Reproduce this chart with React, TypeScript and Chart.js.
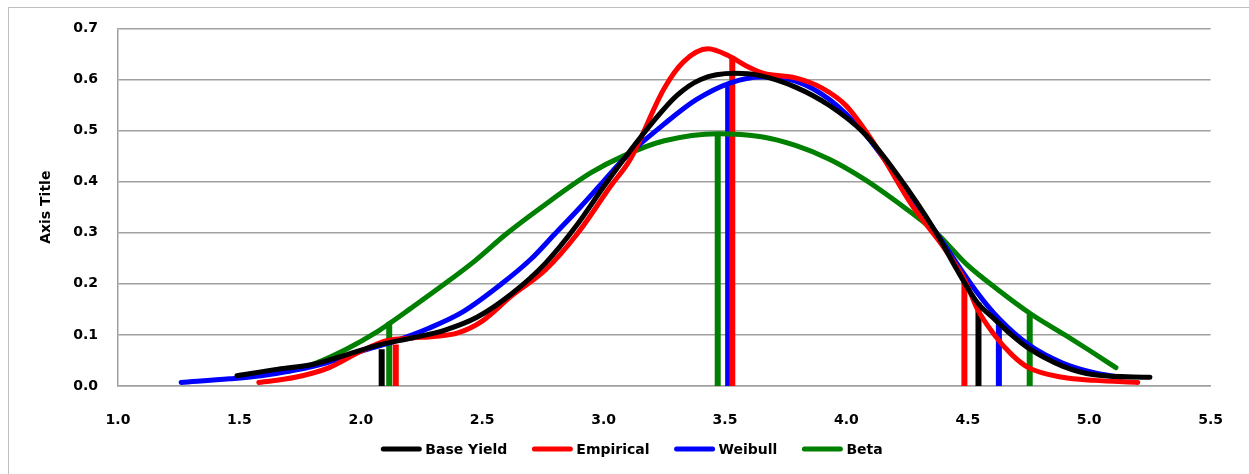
import React, { useEffect, useRef } from "react";
import { Chart, registerables } from "chart.js";

Chart.register(...registerables);

// ---- data ----
const seriesNames = ["Base Yield", "Empirical", "Weibull", "Beta"];
const seriesColors = ["#000000", "#FF0000", "#0000FF", "#008000"];

const baseX = [1.49, 1.66, 1.80, 1.94, 2.07, 2.21, 2.35, 2.48, 2.62, 2.76, 2.89, 3.00, 3.08, 3.20, 3.30, 3.40, 3.54, 3.64, 3.79, 3.93, 4.07, 4.20, 4.37, 4.45, 4.54, 4.61, 4.68, 4.75, 4.89, 5.02, 5.25];
const baseY = [0.020, 0.033, 0.042, 0.061, 0.080, 0.094, 0.110, 0.135, 0.180, 0.240, 0.315, 0.390, 0.442, 0.515, 0.568, 0.600, 0.612, 0.608, 0.585, 0.549, 0.496, 0.420, 0.300, 0.232, 0.163, 0.131, 0.100, 0.074, 0.039, 0.022, 0.017];

const empX = [1.58, 1.73, 1.87, 2.00, 2.11, 2.21, 2.30, 2.40, 2.50, 2.62, 2.76, 2.89, 3.03, 3.11, 3.25, 3.33, 3.43, 3.52, 3.59, 3.66, 3.79, 3.90, 4.00, 4.13, 4.27, 4.41, 4.49, 4.54, 4.61, 4.68, 4.75, 4.89, 5.02, 5.20];
const empY = [0.007, 0.017, 0.036, 0.068, 0.089, 0.094, 0.097, 0.104, 0.127, 0.176, 0.227, 0.297, 0.392, 0.444, 0.583, 0.635, 0.660, 0.645, 0.626, 0.612, 0.603, 0.583, 0.548, 0.463, 0.354, 0.265, 0.205, 0.150, 0.100, 0.062, 0.036, 0.017, 0.011, 0.007];

const weiX = [1.26, 1.46, 1.59, 1.73, 1.87, 2.00, 2.14, 2.28, 2.42, 2.58, 2.70, 2.80, 2.90, 2.98, 3.08, 3.25, 3.38, 3.52, 3.65, 3.79, 3.93, 4.07, 4.20, 4.37, 4.54, 4.63, 4.75, 4.89, 5.02, 5.13];
const weiY = [0.007, 0.014, 0.020, 0.031, 0.047, 0.068, 0.088, 0.113, 0.145, 0.200, 0.248, 0.298, 0.348, 0.390, 0.443, 0.513, 0.560, 0.593, 0.605, 0.597, 0.561, 0.497, 0.415, 0.300, 0.182, 0.131, 0.081, 0.045, 0.026, 0.017];

const betaX = [1.70, 1.80, 1.94, 2.07, 2.12, 2.20, 2.34, 2.47, 2.60, 2.75, 2.95, 3.08, 3.25, 3.47, 3.65, 3.79, 3.93, 4.07, 4.20, 4.37, 4.50, 4.62, 4.76, 4.90, 5.00, 5.11];
const betaY = [0.028, 0.042, 0.072, 0.107, 0.123, 0.150, 0.198, 0.245, 0.298, 0.352, 0.418, 0.450, 0.480, 0.494, 0.488, 0.471, 0.444, 0.406, 0.363, 0.300, 0.236, 0.190, 0.141, 0.100, 0.070, 0.036];

// vertical marker lines (x position, height)
const vBaseX = [2.086, 4.544];
const vBaseTop = [0.072, 0.163];
const vEmpX = [2.144, 3.530, 4.486];
const vEmpTop = [0.081, 0.645, 0.205];
const vWeiX = [3.513, 4.628];
const vWeiTop = [0.593, 0.131];
const vBetaX = [2.117, 3.470, 4.755];
const vBetaTop = [0.125, 0.494, 0.141];

const xMin = 1.0;
const xMax = 5.5;
const xStep = 0.5;
const yMin = 0;
const yMax = 0.7;
const yStep = 0.1;
const yTitle = "Axis Title";

const FONT = "'DejaVu Sans', sans-serif";
const GRID = "#a0a0a0";

const curveXs = [baseX, empX, weiX, betaX];
const curveYs = [baseY, empY, weiY, betaY];
const vXs = [vBaseX, vEmpX, vWeiX, vBetaX];
const vTops = [vBaseTop, vEmpTop, vWeiTop, vBetaTop];

const legendPlugin = {
  id: "customLegend",
  afterDraw(chart: any) {
    const ctx = chart.ctx;
    ctx.save();
    ctx.font = `bold 14px ${FONT}`;
    const lineLen = 40;
    const gapText = 4;
    const gapItem = 25;
    const widths = seriesNames.map((n) => ctx.measureText(n).width);
    let total = 0;
    widths.forEach((w, i) => {
      total += lineLen + gapText + w + (i < widths.length - 1 ? gapItem : 0);
    });
    let x = 632 - total / 2;
    const y = 450;
    seriesNames.forEach((n, i) => {
      ctx.strokeStyle = seriesColors[i];
      ctx.lineWidth = 5;
      ctx.lineCap = "round";
      ctx.beginPath();
      ctx.moveTo(x + 2, y - 1);
      ctx.lineTo(x + lineLen - 2, y - 1);
      ctx.stroke();
      ctx.fillStyle = "#000";
      ctx.textBaseline = "middle";
      ctx.textAlign = "left";
      ctx.fillText(n, x + lineLen + gapText, y);
      x += lineLen + gapText + widths[i] + gapItem;
    });
    ctx.restore();
  },
};

export default function App() {
  const ref = useRef<HTMLCanvasElement | null>(null);

  useEffect(() => {
    if (!ref.current) return;
    const datasets: any[] = [];
    [0, 1, 2, 3].forEach((i) => {
      datasets.push({
        label: seriesNames[i],
        data: curveXs[i].map((x, k) => ({ x, y: curveYs[i][k] })),
        borderColor: seriesColors[i],
        backgroundColor: seriesColors[i],
        borderWidth: 5,
        showLine: true,
        pointRadius: 0,
        cubicInterpolationMode: "monotone",
        borderCapStyle: "round",
        borderJoinStyle: "round",
        fill: false,
      });
    });
    [0, 1, 2, 3].forEach((i) => {
      vXs[i].forEach((vx, k) => {
        datasets.push({
          label: seriesNames[i] + " marker",
          data: [
            { x: vx, y: 0 },
            { x: vx, y: vTops[i][k] },
          ],
          borderColor: seriesColors[i],
          backgroundColor: seriesColors[i],
          borderWidth: 6,
          showLine: true,
          pointRadius: 0,
          tension: 0,
          fill: false,
        });
      });
    });

    const chart = new Chart(ref.current, {
      type: "scatter",
      data: { datasets },
      options: {
        animation: false,
        responsive: false,
        devicePixelRatio: 1,
        layout: { padding: { left: 0, top: 19, right: 32, bottom: 0 } },
        plugins: { legend: { display: false }, tooltip: { enabled: false } },
        scales: {
          x: {
            type: "linear",
            min: xMin,
            max: xMax,
            ticks: {
              stepSize: xStep,
              padding: 26,
              color: "#000",
              font: { family: FONT, size: 14, weight: "bold" },
              callback: (v: any) => Number(v).toFixed(1),
            },
            grid: { display: false, drawTicks: false },
            border: { display: true, color: GRID, width: 1.5 },
            afterFit: (s: any) => {
              s.height = 88;
            },
          },
          y: {
            type: "linear",
            min: yMin,
            max: yMax,
            ticks: {
              stepSize: yStep,
              padding: 20,
              color: "#000",
              font: { family: FONT, size: 14, weight: "bold" },
              callback: (v: any) => Number(v).toFixed(1),
            },
            grid: { color: GRID, lineWidth: 1.5, drawTicks: false },
            border: { display: true, color: GRID, width: 1.5 },
            title: {
              display: true,
              text: yTitle,
              color: "#000",
              font: { family: FONT, size: 14, weight: "bold" },
              padding: { top: 38, bottom: 0 },
            },
            afterFit: (s: any) => {
              s.width = 118;
            },
          },
        },
      },
      plugins: [legendPlugin],
    });
    return () => chart.destroy();
  }, []);

  return (
    <div style={{ position: "absolute", left: 0, top: 0, width: 1249, height: 474, overflow: "hidden", background: "#fff" }}>
      <div
        style={{
          position: "absolute",
          left: 8,
          top: 7,
          width: 1300,
          height: 500,
          border: "1px solid #bfbfbf",
          boxSizing: "border-box",
        }}
      />
      <canvas ref={ref} width={1249} height={474} style={{ position: "absolute", left: 0, top: 0, width: 1249, height: 474 }} />
    </div>
  );
}
